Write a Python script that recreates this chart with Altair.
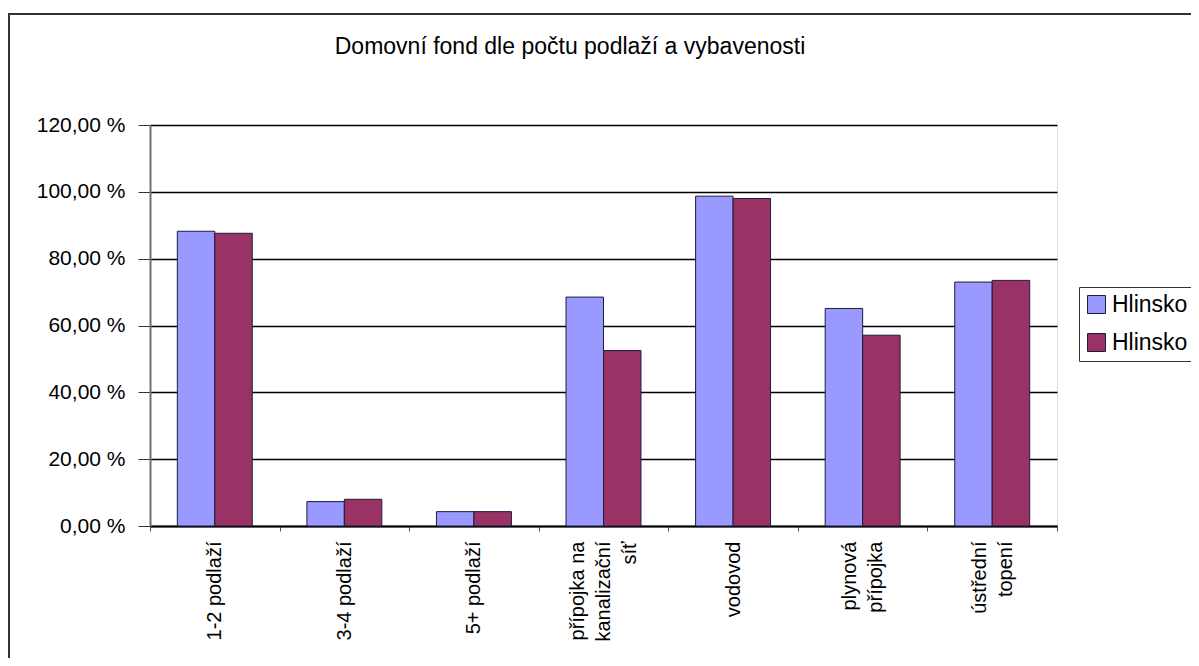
import json
import altair as alt
import pandas as pd

# ---- data ----
category_lines = [
    ["1-2 podlaží"],
    ["3-4 podlaží"],
    ["5+ podlaží"],
    ["přípojka na", "kanalizační", "síť"],
    ["vodovod"],
    ["plynová", "přípojka"],
    ["ústřední", "topení"],
]
categories = [" ".join(l) for l in category_lines]
series_keys = ["s1", "s2"]
series_names = ["Hlinsko", "Hlinsko"]
series_1 = [88.2, 7.3, 4.3, 68.5, 98.7, 65.1, 73.0]
series_2 = [87.6, 8.0, 4.3, 52.5, 98.0, 57.1, 73.5]
y_ticks = [0, 20, 40, 60, 80, 100, 120]
title_text = "Domovní fond dle počtu podlaží a vybavenosti"
colors = ["#9999FF", "#993366"]

rows = []
for c, a, b in zip(categories, series_1, series_2):
    rows.append({"category": c, "series": series_keys[0], "value": a})
    rows.append({"category": c, "series": series_keys[1], "value": b})
df = pd.DataFrame(rows)

FONT = "Liberation Sans"
LINE_H = 26
NBSP = "\u00a0"


def centred_lines(lines):
    # centre shorter lines along the (rotated) label by trailing no-break spaces
    longest = max(len(s) for s in lines)
    return [s + NBSP * int(round((longest - len(s)) * 0.8)) for s in lines]


label_map = json.dumps(
    {c: centred_lines(l) for c, l in zip(categories, category_lines)}, ensure_ascii=False
)
legend_map = json.dumps(dict(zip(series_keys, series_names)), ensure_ascii=False)

offset_conditions = [
    {"test": "datum.value == " + json.dumps(c, ensure_ascii=False), "value": -(len(l) - 1) * LINE_H / 2}
    for c, l in zip(categories, category_lines)
    if len(l) > 1
]

bars = alt.Chart(df).mark_bar(stroke="#1c1c3c", strokeWidth=1).encode(
    x=alt.X(
        "category:N",
        sort=categories,
        scale=alt.Scale(paddingInner=0, paddingOuter=0),
        axis=alt.Axis(
            title=None,
            labelExpr=label_map + "[datum.label]",
            labelAngle=270,
            labelAlign="right",
            labelBaseline="middle",
            labelFont=FONT,
            labelFontSize=20,
            labelColor="black",
            labelLineHeight=LINE_H,
            labelPadding=10,
            labelOffset={"condition": offset_conditions, "value": 0},
            tickBand="extent",
            tickSize=5,
            tickColor="#555555",
            domainColor="black",
            domainWidth=2,
            grid=False,
            labelOverlap=False,
        ),
    ),
    xOffset=alt.XOffset(
        "series:N",
        sort=series_keys,
        scale=alt.Scale(paddingInner=0, paddingOuter=0.729),
    ),
    y=alt.Y(
        "value:Q",
        scale=alt.Scale(domain=[0, 120], nice=False),
        axis=alt.Axis(
            title=None,
            values=y_ticks,
            labelExpr="replace(format(datum.value, '.2f'), '.', ',') + ' %'",
            labelFont=FONT,
            labelFontSize=21,
            labelColor="black",
            labelPadding=13,
            tickSize=12,
            tickColor="#333333",
            domainColor="#707070",
            domainWidth=2,
            grid=True,
            gridColor="black",
            gridWidth=1.3,
        ),
    ),
    color=alt.Color(
        "series:N",
        scale=alt.Scale(domain=series_keys, range=colors),
        legend=alt.Legend(
            title=None,
            orient="none",
            legendX=929,
            legendY=162,
            labelExpr=legend_map + "[datum.label]",
            labelFont=FONT,
            labelFontSize=23,
            labelColor="black",
            labelOffset=4,
            symbolType="square",
            symbolSize=324,
            symbolStrokeColor="#1c1c3c",
            symbolStrokeWidth=1,
            strokeColor="#333333",
            fillColor="white",
            padding=6,
            rowPadding=14,
        ),
    ),
)

border = alt.Chart(pd.DataFrame({"v": [0]})).mark_rect(
    fill="transparent", stroke="#333333", strokeWidth=2
).encode(
    x=alt.value(-141), x2=alt.value(1200), y=alt.value(-111), y2=alt.value(700)
)

title = alt.Chart(pd.DataFrame({"t": [title_text]})).mark_text(
    font=FONT, fontSize=23, color="black", align="center", baseline="alphabetic"
).encode(text="t:N", x=alt.value(420), y=alt.value(-71))

chart = alt.layer(border, bars, title).properties(
    width=907,
    height=401,
    autosize=alt.AutoSizeParams(type="none"),
    padding={"left": 142, "top": 117, "right": 134, "bottom": 132},
).configure_view(
    fill="#C0C0C0", stroke="#707070", strokeWidth=1.5
).configure(background="white")

chart.save("out.html", embed_options={"renderer": "svg", "actions": False})
